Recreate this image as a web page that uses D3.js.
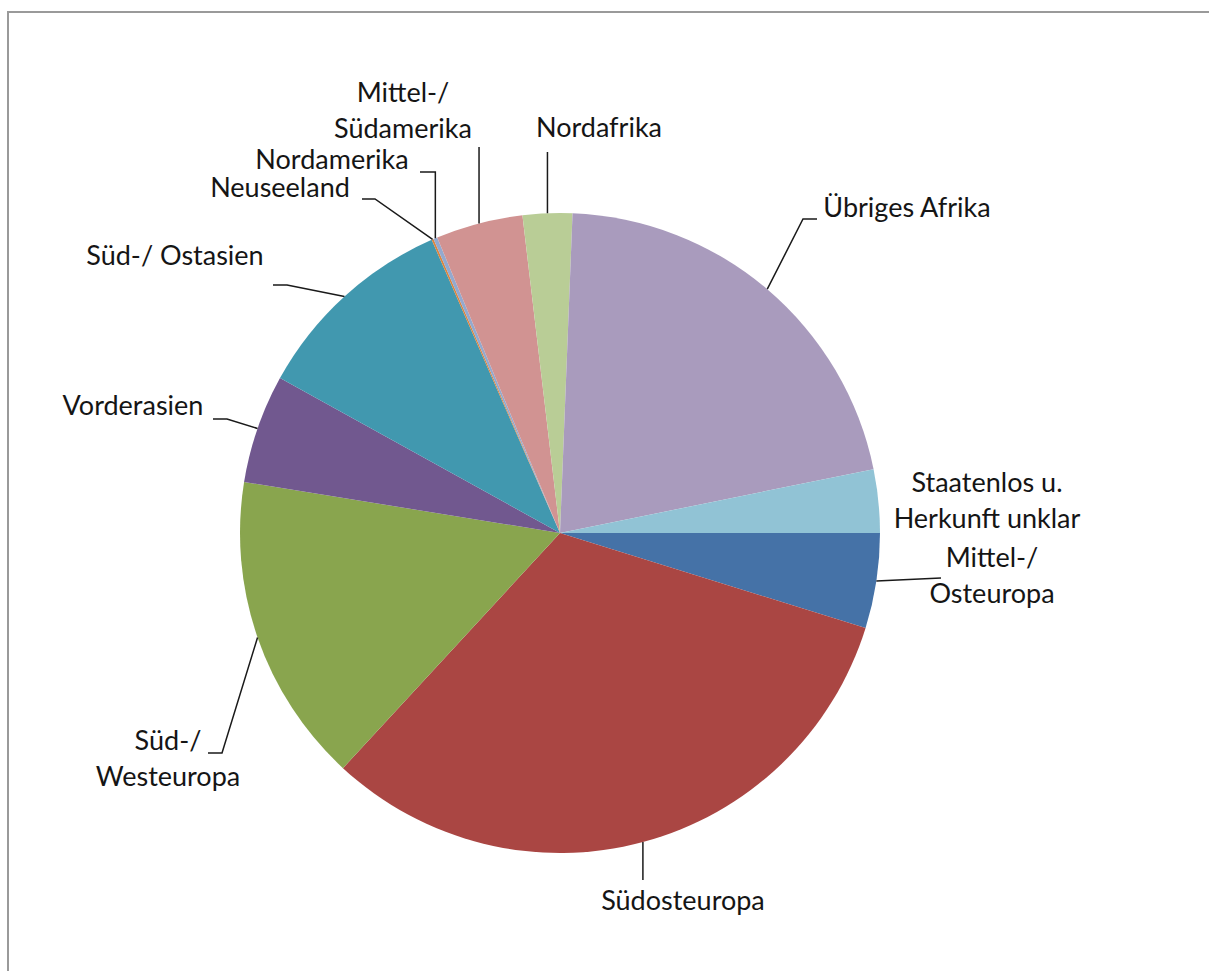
<!DOCTYPE html>
<html>
<head>
<meta charset="utf-8">
<script src="https://cdn.jsdelivr.net/npm/d3@7"></script>
<style>
  html, body { margin: 0; padding: 0; background: #fff; }
  svg { display: block; }
  text { font-family: Lato, "Open Sans", sans-serif; fill: #151515; }
</style>
</head>
<body>
<svg id="chart" width="1209" height="971"></svg>
<script>
// ---- data ----
const categories = [
  "Mittel-/ Osteuropa",
  "Südosteuropa",
  "Süd-/ Westeuropa",
  "Vorderasien",
  "Süd-/ Ostasien",
  "Neuseeland",
  "Nordamerika",
  "Mittel-/ Südamerika",
  "Nordafrika",
  "Übriges Afrika",
  "Staatenlos u. Herkunft unklar"
];
const values = [4.8, 32.1, 15.7, 5.5, 10.4, 0.1, 0.2, 4.4, 2.5, 21.2, 3.2];
const colors = ["#4572a7", "#aa4643", "#89a54e", "#71588f", "#4198af", "#db843d",
                "#93a9cf", "#d19392", "#b9cd96", "#a99bbd", "#91c3d5"];
const labelLines = [
  ["Mittel-/", "Osteuropa"],
  ["Südosteuropa"],
  ["Süd-/", "Westeuropa"],
  ["Vorderasien"],
  ["Süd-/ Ostasien"],
  ["Neuseeland"],
  ["Nordamerika"],
  ["Mittel-/", "Südamerika"],
  ["Nordafrika"],
  ["Übriges Afrika"],
  ["Staatenlos u.", "Herkunft unklar"]
];

// ---- layout (label placement, not data) ----
const cx = 560, cy = 533, radius = 320;
const fontSize = 27, lineHeight = 36;
// x = text centre, y = first baseline, leader = knee points after the arc edge point
// "vx" means knee uses the arc edge x (vertical leader)
const labelLayout = [
  { x: 992, y: 567, leader: [[941, 578]] },
  { x: 683, y: 910, leader: [["vx", 880]] },
  { x: 168, y: 750, leader: [[222, 753], [208, 753]] },
  { x: 133, y: 415, leader: [[227, 419], [213, 419]] },
  { x: 175, y: 265, leader: [[287, 285], [273, 285]] },
  { x: 280, y: 197, leader: [[375, 199], [362, 199]] },
  { x: 332, y: 169, leader: [["vx", 172], [420, 172]] },
  { x: 403, y: 102, leader: [["vx", 147]] },
  { x: 599, y: 137, leader: [["vx", 152]] },
  { x: 907, y: 217, leader: [[803, 219], [817, 219]] },
  { x: 987, y: 492, leader: null }
];

const svg = d3.select("#chart");

// outer frame (only top and left edges visible in the reference)
svg.append("rect")
  .attr("x", 8).attr("y", 12)
  .attr("width", 1300).attr("height", 1100)
  .attr("fill", "none")
  .attr("stroke", "#9a9a9a")
  .attr("stroke-width", 2);

const data = categories.map((c, i) => ({ name: c, value: values[i], i }));

const pie = d3.pie()
  .value(d => d.value)
  .sort(null)
  .startAngle(Math.PI / 2)
  .endAngle(Math.PI / 2 + 2 * Math.PI);

const arcs = pie(data);
const arc = d3.arc().innerRadius(0).outerRadius(radius);
const edgeArc = d3.arc().innerRadius(radius).outerRadius(radius);

const g = svg.append("g").attr("transform", `translate(${cx},${cy})`);

g.selectAll("path.slice")
  .data(arcs)
  .join("path")
  .attr("class", "slice")
  .attr("d", arc)
  .attr("fill", d => colors[d.data.i]);

// leader lines
const lineGen = d3.line();
arcs.forEach(a => {
  const lay = labelLayout[a.data.i];
  if (!lay.leader) return;
  const [ex, ey] = edgeArc.centroid(a);
  const p0 = [cx + ex, cy + ey];
  const pts = [p0];
  lay.leader.forEach(([kx, ky]) => {
    pts.push([kx === "vx" ? p0[0] : kx, ky]);
  });
  svg.append("path")
    .attr("d", lineGen(pts))
    .attr("fill", "none")
    .attr("stroke", "#1a1a1a")
    .attr("stroke-width", 1.5);
});

// labels
arcs.forEach(a => {
  const lay = labelLayout[a.data.i];
  const t = svg.append("text")
    .attr("text-anchor", "middle")
    .attr("font-size", fontSize);
  labelLines[a.data.i].forEach((ln, k) => {
    t.append("tspan")
      .attr("x", lay.x)
      .attr("y", lay.y + k * lineHeight)
      .text(ln);
  });
});
</script>
</body>
</html>
